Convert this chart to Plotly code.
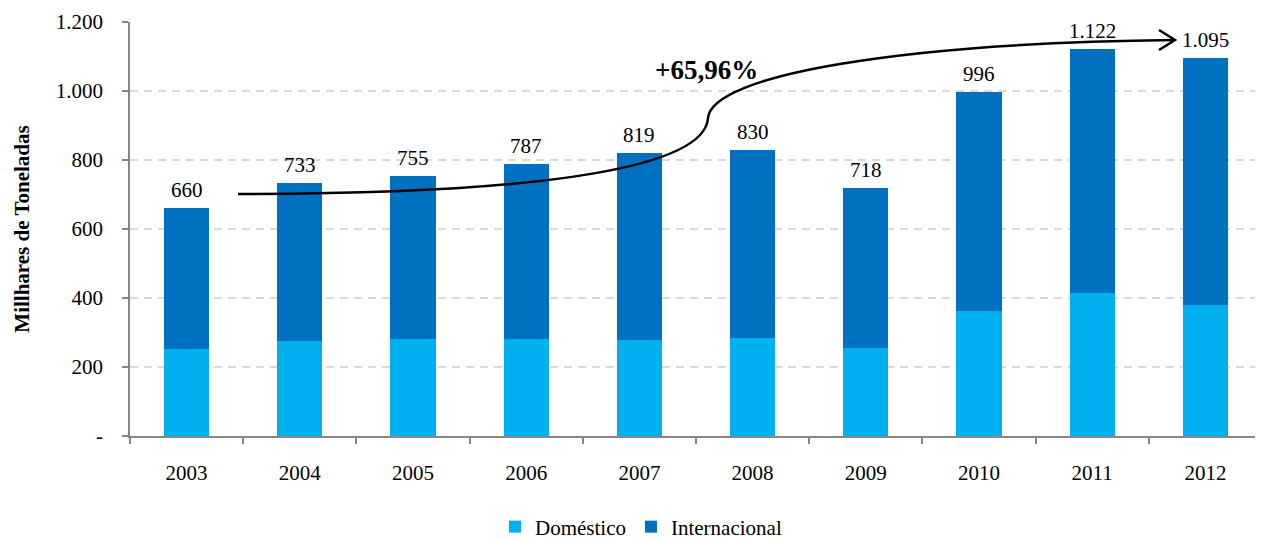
import plotly.graph_objects as go

years = [2003, 2004, 2005, 2006, 2007, 2008, 2009, 2010, 2011, 2012]
totals = [660, 733, 755, 787, 819, 830, 718, 996, 1122, 1095]
domestico = [252, 275, 281, 281, 278, 284, 255, 362, 414, 380]
internacional = [t - d for t, d in zip(totals, domestico)]
total_labels = ["660", "733", "755", "787", "819", "830", "718", "996", "1.122", "1.095"]
y_tickvals = [0, 200, 400, 600, 800, 1000, 1200]
y_ticktext = ["-", "200", "400", "600", "800", "1.000", "1.200"]

FONT = "Liberation Serif"
BLACK = "#000000"
OFF = 8  # default page body margin offset

fig = go.Figure()
fig.add_trace(go.Bar(x=years, y=domestico, name="Doméstico", marker_color="#00B0F0",
                     width=0.4, marker_line_width=0))
fig.add_trace(go.Bar(x=years, y=internacional, name="Internacional", marker_color="#0070C0",
                     width=0.4, marker_line_width=0))

for yr, tot, lab in zip(years, totals, total_labels):
    fig.add_annotation(x=yr, y=tot, text=lab, showarrow=False, yanchor="bottom", yshift=4,
                       font=dict(family=FONT, size=21, color=BLACK))

# growth arrow (annotation) in data coordinates
def px2d(px, py):
    return 2002.5 + (px - 130) / 113.2, (436 - py) / 0.345

pts = [(238, 194), (560, 194), (705, 165), (708, 118), (712, 75), (900, 43), (1175, 40)]
d = [px2d(*p) for p in pts]
path = "M {:.4f},{:.2f} C {:.4f},{:.2f} {:.4f},{:.2f} {:.4f},{:.2f} C {:.4f},{:.2f} {:.4f},{:.2f} {:.4f},{:.2f}".format(
    *[v for p in d for v in p])
fig.add_shape(type="path", path=path, xref="x", yref="y", line=dict(color=BLACK, width=2.5))
h = [px2d(1159, 30), px2d(1175, 40), px2d(1159, 50)]
fig.add_shape(type="path", path="M {:.4f},{:.2f} L {:.4f},{:.2f} L {:.4f},{:.2f}".format(*[v for p in h for v in p]),
              xref="x", yref="y", line=dict(color=BLACK, width=2.5))
lx, ly = px2d(706, 70)
fig.add_annotation(x=lx, y=ly, text="<b>+65,96%</b>", showarrow=False,
                   font=dict(family=FONT, size=27, color=BLACK))

fig.update_layout(
    width=1263 - OFF, height=540 - OFF,
    margin=dict(l=130 - OFF, r=1, t=22 - OFF, b=104, autoexpand=False),
    barmode="stack",
    plot_bgcolor="white", paper_bgcolor="white",
    font=dict(family=FONT, size=21, color=BLACK),
    legend=dict(orientation="h", x=0.4514, xanchor="center", y=-0.2198, yanchor="middle",
                font=dict(family=FONT, size=21, color=BLACK), traceorder="normal",
                itemwidth=30),
    xaxis=dict(range=[2002.5, 2012.5], tickvals=years, ticktext=[str(y) for y in years],
               ticks="", showgrid=False, showline=True, linecolor="#868686", linewidth=1.5,
               ticklabelstandoff=17, tickfont=dict(family=FONT, size=21, color=BLACK),
               minor=dict(ticks="outside", tick0=2002.5, dtick=1, ticklen=6,
                          tickcolor="#868686", tickwidth=1.5, showgrid=False),
               zeroline=False, automargin=False),
    yaxis=dict(range=[0, 1200], tickvals=y_tickvals, ticktext=y_ticktext,
               ticks="outside", ticklen=6, tickcolor="#868686", tickwidth=1.5,
               showline=True, linecolor="#868686", linewidth=1.5,
               showgrid=True, gridcolor="#D9D9D9", griddash="8px,6px", gridwidth=1.5,
               zeroline=False, ticklabelstandoff=15, automargin=False,
               tickfont=dict(family=FONT, size=21, color=BLACK),
               title=dict(text="<b>Millhares de Toneladas</b>",
                          font=dict(family=FONT, size=21, color=BLACK), standoff=20)),
)

fig.write_html("out.html")
